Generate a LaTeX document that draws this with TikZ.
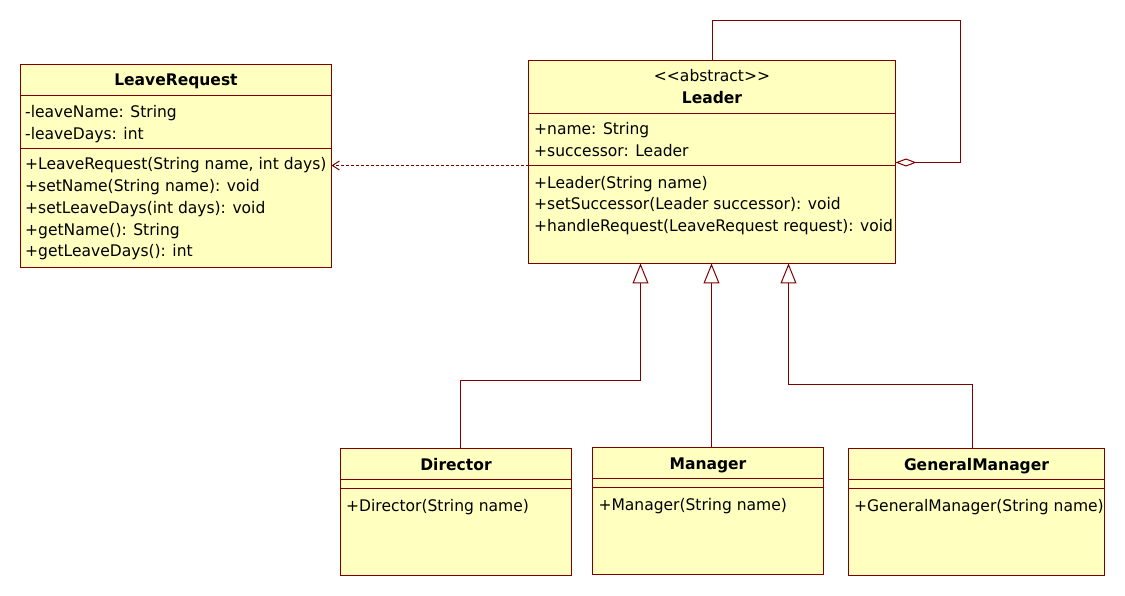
\documentclass[tikz,border=0pt]{standalone}
\usepackage{fontspec}
\setmainfont{DejaVu Sans}[FakeStretch=0.97]
\usetikzlibrary{arrows.meta,calc}
\definecolor{umlred}{RGB}{128,0,0}
\definecolor{umlfill}{RGB}{255,255,192}
\begin{document}
\begin{tikzpicture}[x=1pt,y=-1pt,
  classbox/.style={draw=umlred, fill=umlfill, line width=1pt, inner sep=0pt, outer sep=0pt, anchor=north west},
  sepline/.style={draw=umlred, line width=1pt},
  txt/.style={anchor=base west, inner sep=0pt, font=\fontsize{16}{19}\selectfont},
  ttl/.style={anchor=base, inner sep=0pt, font=\fontsize{16}{19}\selectfont\bfseries},
  stereo/.style={anchor=base, inner sep=0pt, font=\fontsize{16}{19}\selectfont},
  conn/.style={draw=umlred, line width=1pt},
  gen/.style={conn, -{Triangle[length=20pt,width=16pt,fill=white,line width=1pt]}},
  dep/.style={conn, dash pattern=on 3pt off 2pt, -{Straight Barb[length=7pt,width=9pt,line width=1pt]}},
  agg/.style={conn, {Diamond[length=21pt,width=8pt,fill=white,line width=1pt]}-},
]
\useasboundingbox (0,0) rectangle (1125,596);

% ---------- LeaveRequest ----------
\node[classbox, minimum width=311pt, minimum height=203pt] (lr) at (20.5,64.5) {};
\draw[sepline] (lr.west |- 0,95.5) -- (lr.east |- 0,95.5);
\draw[sepline] (lr.west |- 0,148.5) -- (lr.east |- 0,148.5);
\node[ttl] (lrT) at (lr.north |- 0,85.7) {LeaveRequest};
\node[txt] (lr1) at (25,118) {-leaveName: String};
\node[txt] (lr2) at (25,139.7) {-leaveDays: int};
\node[txt] (lr3) at (25,170) {+LeaveRequest(String name, int days)};
\node[txt] (lr4) at (25,191.7) {+setName(String name): void};
\node[txt] (lr5) at (25,213.4) {+setLeaveDays(int days): void};
\node[txt] (lr6) at (25,235.1) {+getName(): String};
\node[txt] (lr7) at (25,256.8) {+getLeaveDays(): int};

% ---------- Leader ----------
\node[classbox, minimum width=367pt, minimum height=203pt] (ldr) at (528.5,60.5) {};
\draw[sepline] (ldr.west |- 0,113.5) -- (ldr.east |- 0,113.5);
\draw[sepline] (ldr.west |- 0,165.5) -- (ldr.east |- 0,165.5);
\node[stereo] (ldrS) at (ldr.north |- 0,81.7) {<{}<abstract>{}>};
\node[ttl] (ldrT) at (ldr.north |- 0,104) {Leader};
\node[txt] (ld1) at (534,135) {+name: String};
\node[txt] (ld2) at (534,156.7) {+successor: Leader};
\node[txt] (ld3) at (534,188.3) {+Leader(String name)};
\node[txt] (ld4) at (534,210) {+setSuccessor(Leader successor): void};
\node[txt] (ld5) at (534,231.7) {+handleRequest(LeaveRequest request): void};

% ---------- Director ----------
\node[classbox, minimum width=231pt, minimum height=127pt] (dir) at (340.5,448.5) {};
\draw[sepline] (dir.west |- 0,479.5) -- (dir.east |- 0,479.5);
\draw[sepline] (dir.west |- 0,488.5) -- (dir.east |- 0,488.5);
\node[ttl] (dirT) at (dir.north |- 0,470) {Director};
\node[txt] (dir1) at (346,511.7) {+Director(String name)};

% ---------- Manager ----------
\node[classbox, minimum width=231pt, minimum height=127pt] (mgr) at (592.5,447.5) {};
\draw[sepline] (mgr.west |- 0,478.5) -- (mgr.east |- 0,478.5);
\draw[sepline] (mgr.west |- 0,487.5) -- (mgr.east |- 0,487.5);
\node[ttl] (mgrT) at (mgr.north |- 0,469.3) {Manager};
\node[txt] (mgr1) at (598.3,510) {+Manager(String name)};

% ---------- GeneralManager ----------
\node[classbox, minimum width=256pt, minimum height=127pt] (gm) at (848.5,448.5) {};
\draw[sepline] (gm.west |- 0,479.5) -- (gm.east |- 0,479.5);
\draw[sepline] (gm.west |- 0,488.5) -- (gm.east |- 0,488.5);
\node[ttl] (gmT) at (gm.north |- 0,470) {GeneralManager};
\node[txt] (gm1) at (854,511.7) {+GeneralManager(String name)};

% ---------- connectors ----------
% dependency Leader -> LeaveRequest
\draw[dep] (ldr.west |- 0,165.5) -- (lr.east |- 0,165.5);

% self aggregation
\draw[agg] (ldr.east |- 0,162.5) -- (960.5,162.5) -- (960.5,20.5) -- (712.5,20.5) -- (ldr.north -| 712.5,0);

% generalizations
\draw[gen] ($(dir.north west)+(120,0)$) -- ++(0,-68) -| (ldr.south -| 640.5,0);
\draw[gen] (mgr.north -| 711.5,0) -- (ldr.south -| 711.5,0);
\draw[gen] ($(gm.north west)+(124,0)$) -- ++(0,-64) -| (ldr.south -| 788.5,0);

\end{tikzpicture}
\end{document}
